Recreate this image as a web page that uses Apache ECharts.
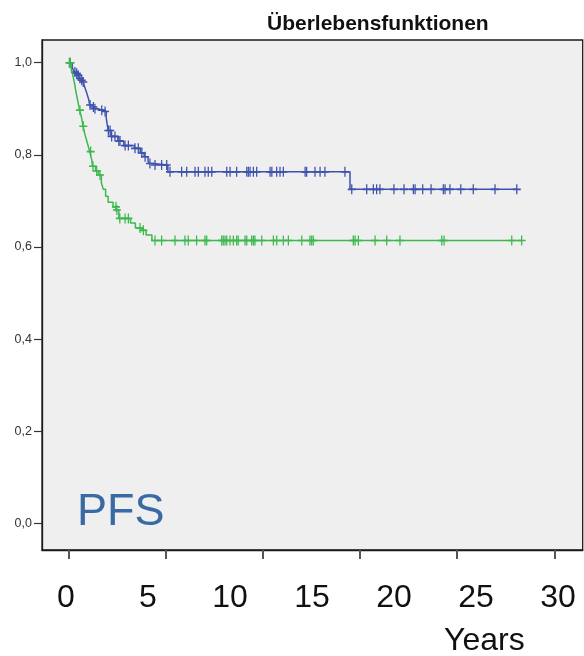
<!DOCTYPE html>
<html><head><meta charset="utf-8">
<script src="https://cdn.jsdelivr.net/npm/echarts@6/dist/echarts.min.js"></script>
<style>html,body{margin:0;padding:0;background:#fff}#c{width:584px;height:656px}</style>
</head><body><div id="c"></div>
<script>
// Kaplan-Meier steps: [time (years), survival after event]
const blueSteps = [[0,1],[0.2,0.99],[0.3,0.98],[0.42,0.977],[0.5,0.973],[0.58,0.966],[0.66,0.962],[0.75,0.958],[0.85,0.946],[0.95,0.934],[1.05,0.92],[1.1,0.908],[1.25,0.904],[1.33,0.9],[1.5,0.897],[1.8,0.894],[1.95,0.88],[2.0,0.866],[2.05,0.853],[2.2,0.84],[2.55,0.83],[2.85,0.82],[3.4,0.814],[3.7,0.804],[3.9,0.796],[4.1,0.787],[4.15,0.781],[4.4,0.778],[5.12,0.763],[14.49,0.725]];
const blueCensors = [0.1,0.34,0.43,0.51,0.6,0.69,0.77,1.12,1.29,1.37,1.72,1.89,2.06,2.15,2.23,2.4,2.6,2.66,2.92,3.09,3.43,3.6,3.78,3.95,4.2,4.46,4.8,5.06,5.23,5.83,6.09,6.52,6.69,7.03,7.2,7.38,8.15,8.32,8.66,9.18,9.26,9.35,9.52,9.69,10.38,10.47,10.72,10.89,11.06,12.18,12.26,12.69,12.95,13.2,14.23,14.58,15.35,15.69,15.86,16.03,16.75,17.27,17.75,17.84,18.23,18.66,19.29,19.38,19.63,20.19,20.83,21.95,23.07];
const greenSteps = [[0,1],[0.15,0.985],[0.25,0.97],[0.32,0.955],[0.38,0.94],[0.45,0.925],[0.52,0.91],[0.58,0.897],[0.66,0.885],[0.72,0.872],[0.76,0.862],[0.85,0.845],[0.95,0.83],[1.05,0.815],[1.1,0.807],[1.2,0.79],[1.25,0.775],[1.4,0.765],[1.55,0.756],[1.7,0.74],[1.8,0.725],[1.92,0.71],[2.05,0.697],[2.3,0.687],[2.47,0.68],[2.6,0.662],[3.2,0.652],[3.45,0.641],[3.8,0.636],[4.0,0.626],[4.3,0.614]];
const greenCensors = [0.05,0.1,0.6,0.77,1.15,1.27,1.46,1.63,2.45,2.5,2.65,2.92,3.09,3.69,3.86,4.46,4.8,5.49,6.0,6.17,6.6,7.03,7.12,7.89,7.97,8.06,8.15,8.32,8.49,8.66,8.74,9.09,9.18,9.43,9.52,9.6,9.95,10.55,10.72,11.06,11.32,12.01,12.43,12.52,12.6,14.66,14.75,14.92,15.78,16.38,17.06,19.21,19.33,22.81,23.32];
const yTicks = [0,0.2,0.4,0.6,0.8,1.0];
const xTicks = [0,5,10,15,20,25];
const yearLabels = [0,5,10,15,20,25,30];

const BLUE = '#3d52ad', GREEN = '#3cb84c';

function survAt(steps, t){ let s = steps[0][1]; for (const p of steps){ if (p[0] <= t) s = p[1]; } return s; }
function lineData(steps, censors){ const end = censors[censors.length-1]; const d = steps.slice(); d.push([end, survAt(steps,end)]); return d; }
function censorData(steps, censors){ return censors.map(t => [t, survAt(steps,t)]); }

const plus = 'path://M4,0L4,10M0,5L8,5';
const chart = echarts.init(document.getElementById('c'), null, {renderer:'canvas'});
const FONT = 'Liberation Sans, Arial, sans-serif';
chart.setOption({
  animation:false,
  backgroundColor:'#ffffff',
  title:[
    {text:'Überlebensfunktionen', left:262, top:9, textStyle:{fontFamily:FONT, fontWeight:'bold', fontSize:21, color:'#111'}},
    {text:'PFS', left:72, top:485, textStyle:{fontFamily:FONT, fontWeight:'normal', fontSize:45, color:'#3a6aa3'}},
    {text:'Years', left:439, top:620, textStyle:{fontFamily:FONT, fontWeight:'normal', fontSize:32, color:'#111'}}
  ],
  grid:{left:42, right:1.3, top:40, bottom:106, show:true, backgroundColor:'#efefef', borderColor:'#1a1a1a', borderWidth:1.3},
  xAxis:[
    {type:'value', min:-1.353, max:26.46, axisLine:{show:true, onZero:false, lineStyle:{color:'#1a1a1a', width:1.3}},
     axisTick:{show:true, customValues:xTicks, length:9, lineStyle:{color:'#555', width:2}},
     axisLabel:{show:false}, splitLine:{show:false}},
    {type:'value', min:-1.463, max:31.51, position:'bottom', axisLine:{show:false}, axisTick:{show:false}, splitLine:{show:false},
     axisLabel:{show:true, customValues:yearLabels, fontFamily:FONT, fontSize:32, color:'#111', margin:32}}
  ],
  yAxis:{type:'value', min:-0.058, max:1.0493, axisLine:{show:true, onZero:false, lineStyle:{color:'#1a1a1a', width:1.3}},
    axisTick:{show:true, customValues:yTicks, length:8, lineStyle:{color:'#333', width:1.2}},
    axisLabel:{show:true, customValues:yTicks, fontFamily:FONT, fontSize:12.5, color:'#333', margin:10, formatter:v=>v.toFixed(1).replace('.',',')},
    splitLine:{show:false}},
  series:[
    {type:'line', step:'end', data:lineData(blueSteps, blueCensors), symbol:'none', lineStyle:{color:BLUE, width:1.5}, z:2},
    {type:'scatter', data:censorData(blueSteps, blueCensors), symbol:plus, symbolSize:[8,10], itemStyle:{color:'none', borderColor:BLUE, borderWidth:1.4, opacity:1}, z:3},
    {type:'line', step:'end', data:lineData(greenSteps, greenCensors), symbol:'none', lineStyle:{color:GREEN, width:1.5}, z:4},
    {type:'scatter', data:censorData(greenSteps, greenCensors), symbol:plus, symbolSize:[8,10], itemStyle:{color:'none', borderColor:GREEN, borderWidth:1.4, opacity:1}, z:5}
  ]
});
</script></body></html>
